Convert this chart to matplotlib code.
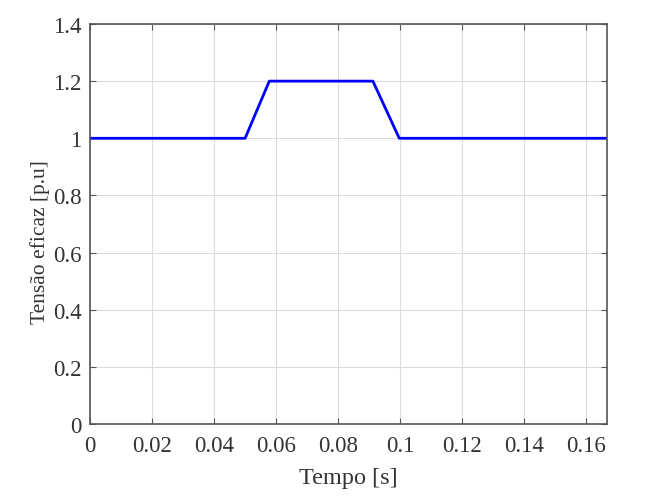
import matplotlib
matplotlib.use("Agg")
import matplotlib.pyplot as plt

# tensão eficaz durante a elevação (swell)
tempo = [0.0, 0.05, 0.0578, 0.0912, 0.0997, 1 / 6]
tensao = [1.0, 1.0, 1.2, 1.2, 1.0, 1.0]
xticks = [0, 0.02, 0.04, 0.06, 0.08, 0.1, 0.12, 0.14, 0.16]
yticks = [0, 0.2, 0.4, 0.6, 0.8, 1, 1.2, 1.4]

plt.rcParams['font.family'] = ['Liberation Serif', 'DejaVu Serif']

fig = plt.figure(figsize=(6.55, 5.02), dpi=100)
ax = fig.add_axes([0.1374, 0.1534, 0.7893, 0.7968])
ax.plot(tempo, tensao, color=(0, 0, 1), linewidth=2)
ax.set_xlim(0, 1 / 6)
ax.set_ylim(0, 1.4)
ax.set_xticks(xticks)
ax.set_xticklabels([f"{t:g}" for t in xticks])
ax.set_yticks(yticks)
ax.set_yticklabels([f"{t:g}" for t in yticks])
ax.grid(True, color="#dcdcdc", linewidth=0.8)
ax.set_axisbelow(True)
for s in ax.spines.values():
    s.set_color("#555555")
    s.set_linewidth(1.2)
ax.tick_params(direction="in", length=4, color="#555555",
               labelsize=16.5, labelcolor="#333333", top=True, right=True)
ax.tick_params(axis="x", pad=8)
ax.tick_params(axis="y", pad=6)
ax.set_xlabel("Tempo [s]", fontsize=17.5, color="#333333", labelpad=8)
ax.set_ylabel("Tensão eficaz [p.u]", fontsize=15.5, color="#333333")
ax.yaxis.set_label_coords(-0.078, 0.4575)
fig.savefig("out.png", dpi=100)
